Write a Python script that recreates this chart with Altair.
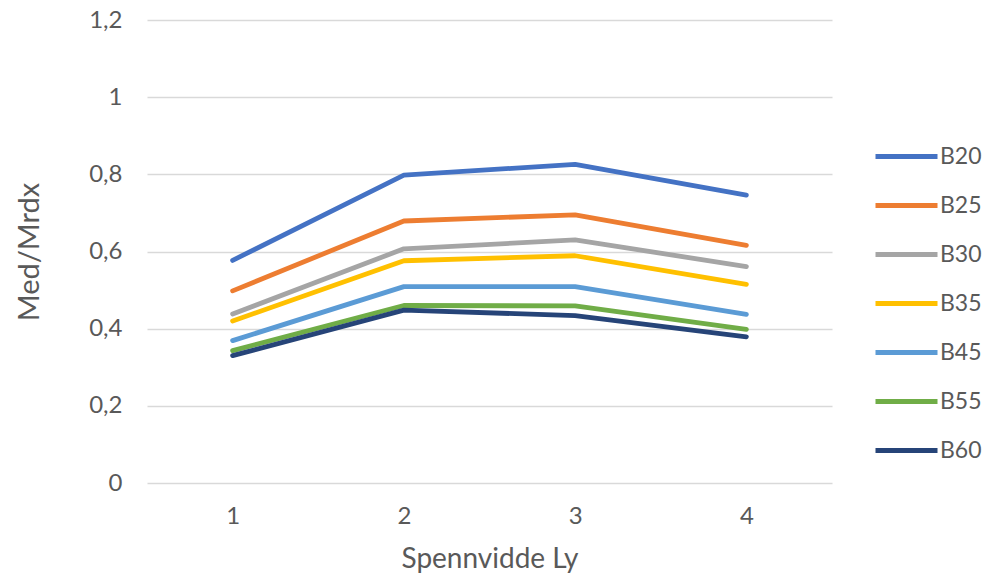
import altair as alt
import pandas as pd

# Span categories on the x axis
spans = ["1", "2", "3", "4"]

# Med/Mrdx per concrete class, one value per span
b20 = [0.577, 0.798, 0.826, 0.746]
b25 = [0.498, 0.679, 0.695, 0.616]
b30 = [0.438, 0.607, 0.630, 0.561]
b35 = [0.420, 0.576, 0.589, 0.515]
b45 = [0.369, 0.509, 0.509, 0.437]
b55 = [0.343, 0.460, 0.459, 0.398]
b60 = [0.330, 0.448, 0.434, 0.379]

series = {"B20": b20, "B25": b25, "B30": b30, "B35": b35,
          "B45": b45, "B55": b55, "B60": b60}
series_names = list(series.keys())
series_colors = ["#4472C4", "#ED7D31", "#A5A5A5", "#FFC000",
                 "#5B9BD5", "#70AD47", "#264478"]

y_ticks = [0, 0.2, 0.4, 0.6, 0.8, 1.0, 1.2]

rows = []
for name, vals in series.items():
    for s, v in zip(spans, vals):
        rows.append({"Span": s, "Value": v, "Class": name})
df = pd.DataFrame(rows)

FONT = "Lato"
GREY = "#595959"

chart = alt.Chart(df).mark_line(
    strokeWidth=4.8, strokeCap="round", strokeJoin="round"
).encode(
    x=alt.X("Span:N", sort=spans, scale=alt.Scale(paddingInner=0, paddingOuter=0),
            axis=alt.Axis(title="Spennvidde Ly", labelAngle=0, ticks=False,
                          domain=False, grid=False, labelPadding=21,
                          titlePadding=17, labelFontSize=24, titleFontSize=28)),
    y=alt.Y("Value:Q", scale=alt.Scale(domain=[0, 1.2], nice=False, zero=True),
            axis=alt.Axis(title="Med/Mrdx", values=y_ticks, ticks=False, domain=False,
                          labelExpr="replace(format(datum.value, '~g'), '.', ',')",
                          labelPadding=25, titlePadding=44,
                          labelFontSize=24, titleFontSize=29)),
    color=alt.Color("Class:N", sort=series_names,
                    scale=alt.Scale(domain=series_names, range=series_colors),
                    legend=alt.Legend(title=None, orient="none", legendX=726, legendY=103,
                                      symbolType="stroke", symbolSize=3844,
                                      symbolStrokeWidth=4.8, labelFontSize=23,
                                      labelOffset=0, rowPadding=3)),
    order=alt.value(0),
).properties(
    width=685, height=463,
    padding={"left": 147, "top": 20, "right": 152, "bottom": 94},
    autosize=alt.AutoSizeParams(type="none"),
).configure_view(stroke=None).configure_axis(
    labelFont=FONT, titleFont=FONT, labelColor=GREY, titleColor=GREY,
    titleFontWeight="normal", gridColor="#D9D9D9", gridWidth=1.3,
).configure_legend(labelFont=FONT, labelColor=GREY)

chart.save("out.html", embed_options={"renderer": "svg", "actions": False})
